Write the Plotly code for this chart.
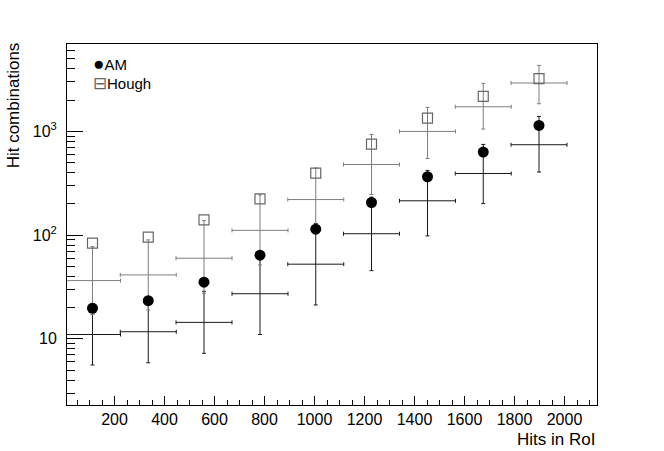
import plotly.graph_objects as go
import numpy as np

# ---- data ----
bin_centers = [112, 335, 558, 782, 1005, 1228, 1452, 1675, 1898]
bin_half_width = [112, 112, 112, 112, 112, 112, 112, 112, 112]

am_marker = [19.7, 23.3, 35.1, 64.0, 114, 206, 365, 631, 1140]
am_center = [11.0, 11.7, 14.4, 27.2, 52.4, 103, 214, 392, 743]
am_upper = [21.9, 23.3, 28.7, 67.1, 129, 232, 420, 748, 1393]
am_lower = [5.59, 5.87, 7.24, 11.0, 21.2, 45.4, 98.2, 201, 405]

hough_marker = [83.6, 95.5, 140, 223, 395, 753, 1343, 2173, 3220]
hough_center = [36.4, 41.3, 59.8, 111, 220, 479, 998, 1726, 2925]
hough_upper = [77.4, 89.9, 138, 244, 443, 933, 1702, 2898, 4325]
hough_lower = [17.1, 19.0, 27.5, 51.5, 110, 246, 547, 1052, 1845]

x_ticks = [200, 400, 600, 800, 1000, 1200, 1400, 1600, 1800, 2000]
y_ticks = [10, 100, 1000]
y_ticktext = ["10", "10<sup>2</sup>", "10<sup>3</sup>"]

AM_COLOR = "#000000"
AM_ERR_COLOR = "#1a1a1a"
HOUGH_COLOR = "#666666"
HOUGH_ERR_COLOR = "#7f7f7f"
FONT = "Liberation Sans, Arial, Helvetica, sans-serif"


def err_trace(center, upper, lower, color):
    c = np.array(center, dtype=float)
    return go.Scatter(
        x=bin_centers, y=center, mode="markers",
        marker=dict(size=1, color="rgba(0,0,0,0)"),
        error_x=dict(type="data", array=bin_half_width, symmetric=True,
                     color=color, thickness=1, width=2),
        error_y=dict(type="data", symmetric=False,
                     array=list(np.array(upper) - c),
                     arrayminus=list(c - np.array(lower)),
                     color=color, thickness=1, width=2),
        showlegend=False, hoverinfo="skip",
    )


fig = go.Figure()
fig.add_trace(err_trace(am_center, am_upper, am_lower, AM_ERR_COLOR))
fig.add_trace(err_trace(hough_center, hough_upper, hough_lower, HOUGH_ERR_COLOR))
fig.add_trace(go.Scatter(
    x=bin_centers, y=am_marker, mode="markers", name="AM",
    marker=dict(symbol="circle", size=11, color=AM_COLOR, line=dict(width=0)),
    showlegend=False,
))
fig.add_trace(go.Scatter(
    x=bin_centers, y=hough_marker, mode="markers", name="Hough",
    marker=dict(symbol="square-open", size=10, color=HOUGH_COLOR, line=dict(width=1.2)),
    showlegend=False,
))

# minor ticks for log axis
minor_y = [m * 10 ** e for e in range(0, 4) for m in range(2, 10)]
minor_y = [v for v in minor_y if 2.3 <= v <= 6950]

fig.update_layout(
    width=664, height=451,
    margin=dict(l=67, r=67, t=44, b=46),
    paper_bgcolor="white", plot_bgcolor="white",
    font=dict(family=FONT, size=16, color="black"),
    xaxis=dict(
        range=[10, 2130], tickvals=x_ticks, ticks="inside", ticklen=9,
        tickcolor="black", tickwidth=1, showline=True, linecolor="black",
        linewidth=1, mirror=True, showgrid=False, zeroline=False,
        tickfont=dict(size=16), ticklabelstandoff=0,
        minor=dict(dtick=50, tick0=0, ticks="inside", ticklen=5,
                   tickcolor="black", tickwidth=1, showgrid=False),
    ),
    yaxis=dict(
        type="log", range=[np.log10(2.3), np.log10(6950)],
        tickvals=y_ticks, ticktext=y_ticktext, ticks="inside", ticklen=16,
        tickcolor="black", tickwidth=1, showline=True, linecolor="black",
        linewidth=1, mirror=True, showgrid=False, zeroline=False,
        tickfont=dict(size=16), ticklabelstandoff=6,
        minor=dict(tickvals=minor_y, ticks="inside", ticklen=8,
                   tickcolor="black", tickwidth=1, showgrid=False),
    ),
    annotations=[
        dict(text="Hit combinations", xref="paper", yref="paper",
             x=-0.102, y=1.01, xanchor="center", yanchor="top",
             textangle=-90, showarrow=False, font=dict(size=17)),
        dict(text="Hits in RoI", xref="paper", yref="paper",
             x=1.0, y=-0.095, xanchor="right", yanchor="middle",
             showarrow=False, font=dict(size=17)),
        dict(text="<span style='font-size:19px'>\u25cf</span>AM",
             xref="paper", yref="paper", x=0.045, y=0.945,
             xanchor="left", yanchor="middle", showarrow=False,
             font=dict(size=15)),
        dict(text="<span style='color:#666666;font-size:17px'>\u229f</span>Hough",
             xref="paper", yref="paper", x=0.045, y=0.89,
             xanchor="left", yanchor="middle", showarrow=False,
             font=dict(size=15)),
    ],
)

fig.write_html(
    "out.html",
    config={"displayModeBar": False},
    post_script="document.body.style.margin='0px';document.body.style.overflow='hidden';",
)
